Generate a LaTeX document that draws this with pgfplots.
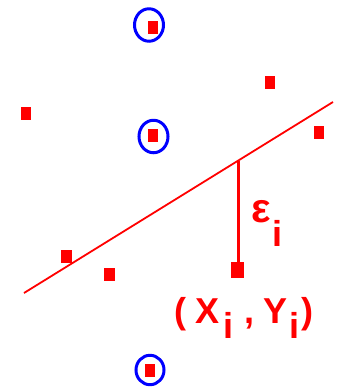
\documentclass[border=0pt]{standalone}
\usepackage{fontspec}
\setmainfont{Liberation Sans}
\usepackage{pgfplots}
\pgfplotsset{compat=1.18}
\definecolor{pred}{RGB}{255,0,0}
\definecolor{pblue}{RGB}{0,0,255}
\begin{document}
\begin{tikzpicture}
\begin{axis}[
  scale only axis, width=337pt, height=388pt,
  xmin=0, xmax=337, ymin=0, ymax=388, y dir=reverse,
  axis line style={draw=none}, xtick=\empty, ytick=\empty, clip=false
]
\path (rel axis cs:0,0) rectangle (rel axis cs:1,1);
% fitted line
\addplot[pred, line width=1.8pt] coordinates {(24,293) (333,102)};
% residual
\addplot[pred, line width=3pt] coordinates {(238.5,160.5) (238.5,264)};
% data points
\addplot[only marks, mark=square*, mark size=6pt, mark options={xscale=0.8, pred, draw=pred, fill=pred}] coordinates {
(25.5,113) (152.5,27) (269.5,82) (152.5,135) (318.5,132) (66,256) (109,274) (149.5,370)
};
\addplot[only marks, mark=square*, mark size=7.5pt, mark options={xscale=0.8, pred, draw=pred, fill=pred}] coordinates {
(237,269.5)
};
% circled points
\addplot[only marks, mark=o, mark size=14.5pt, mark options={pblue, line width=3pt, yscale=1.12}] coordinates {
(149,25) (153.5,136.5)
};
\addplot[only marks, mark=o, mark size=14pt, mark options={pblue, line width=3pt, yscale=1.05}] coordinates {
(150,370)
};
\node[anchor=base west, inner sep=0pt, text=pred, font=\fontsize{36}{36}\selectfont\bfseries] at (axis cs:251,222) {{\fontsize{41}{41}\selectfont ε}\hspace{2pt}\raisebox{-24pt}{i}};
\node[anchor=base west, inner sep=0pt, text=pred, font=\fontsize{36}{36}\selectfont\bfseries] at (axis cs:174,323) {(\hspace{9pt}X\hspace{4pt}\raisebox{-15pt}{i}\hspace{11pt},\hspace{9pt}Y\hspace{2pt}\raisebox{-15pt}{i}\hspace{2pt})};
\end{axis}
\end{tikzpicture}
\end{document}
